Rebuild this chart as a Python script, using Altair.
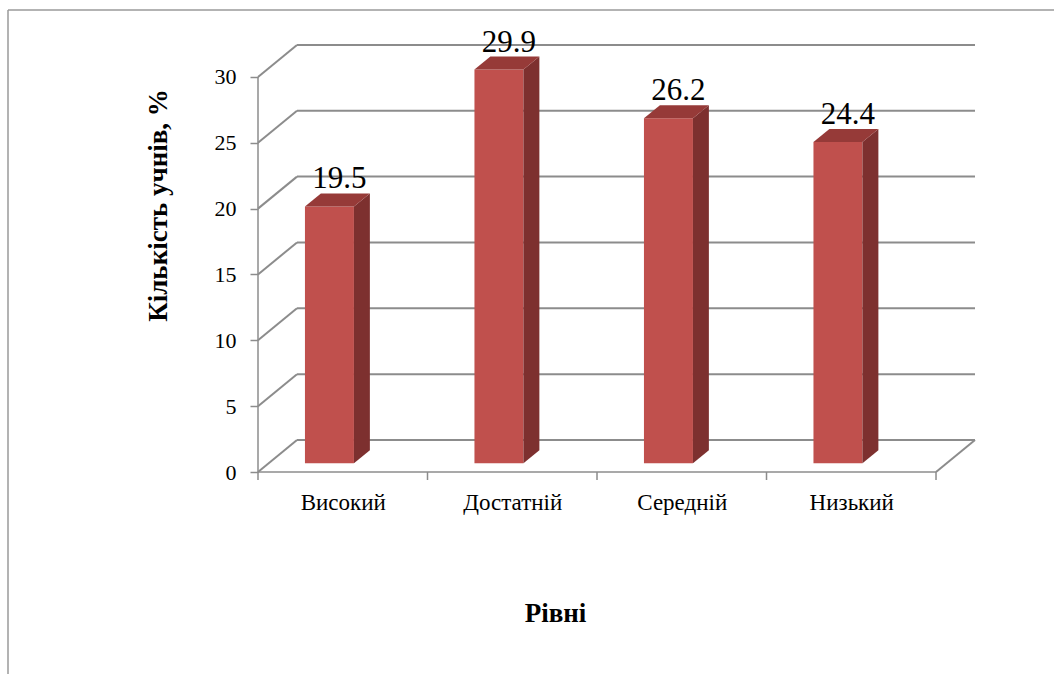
import altair as alt
import pandas as pd

# ---- data ----
categories = ["Високий", "Достатній", "Середній", "Низький"]
values = [19.5, 29.9, 26.2, 24.4]
y_ticks = [0, 5, 10, 15, 20, 25, 30]

# ---- pseudo-3D layout constants (in data units) ----
W, H = 717, 428
XMAX, YMAX = 4.23, 32.5
DX, DY = 0.23, 2.43          # depth of the walls
BASE = 0.66                  # bar base height (bars stand inside the floor)
F1, F2 = 0.277, 0.566        # front face of bar within category slot
SDX, SDY = 0.094, 0.99       # bar depth
FONT = "Liberation Serif"
GRID = "#8c8c8c"

xs = alt.Scale(domain=[0, XMAX], nice=False, zero=False)
ys = alt.Scale(domain=[0, YMAX], nice=False, zero=False)

label_expr = "[" + ",".join("'" + c + "'" for c in categories) + "][floor(datum.value)]"
xaxis = alt.Axis(values=[i + 0.5 for i in range(len(categories))], labelExpr=label_expr,
                 ticks=False, domain=False, grid=False, labelFont=FONT, labelFontSize=23,
                 labelColor="black", labelPadding=19, title="Рівні", titleFont=FONT,
                 titleFontSize=27, titleFontWeight="bold", titleColor="black",
                 titleX=297, titleY=141, titleBaseline="middle", titleAlign="center")
yaxis = alt.Axis(values=y_ticks, ticks=True, tickSize=8, tickColor=GRID, tickWidth=1.5,
                 domain=False, grid=False, labelFont=FONT, labelFontSize=22,
                 labelColor="black", labelPadding=14, title="Кількість учнів, %",
                 titleFont=FONT, titleFontSize=27, titleFontWeight="bold", titleColor="black",
                 titleX=-100, titleY=161, titleAlign="center", titleBaseline="middle", titleAngle=-90)

X = alt.X("x:Q", scale=xs, axis=xaxis)
Y = alt.Y("y:Q", scale=ys, axis=yaxis)

# ---- walls / grid ----
rows = []
for v in y_ticks:
    rows.append({"x": DX, "x2": XMAX, "y": v + DY, "y2": v + DY})   # back wall line
    rows.append({"x": 0, "x2": DX, "y": v, "y2": v + DY})           # side wall diagonal
rows.append({"x": len(categories), "x2": len(categories) + DX, "y": 0, "y2": DY})  # floor right edge
grid_df = pd.DataFrame(rows)
grid = alt.Chart(grid_df).mark_rule(color=GRID, strokeWidth=2).encode(
    x=X, x2="x2:Q", y=Y, y2="y2:Q")

front_df = pd.DataFrame([
    {"x": 0, "x2": len(categories), "y": 0, "y2": 0},
    {"x": 0, "x2": 0, "y": 0, "y2": max(y_ticks)},
])
front = alt.Chart(front_df).mark_rule(color=GRID, strokeWidth=1.5).encode(
    x=X, x2="x2:Q", y=Y, y2="y2:Q")

tick_df = pd.DataFrame({"x": list(range(len(categories) + 1))})
xticks = alt.Chart(tick_df).mark_rule(color=GRID, strokeWidth=1.5).encode(
    x=X, y=alt.value(H), y2=alt.value(H + 8))

# ---- bars ----
face_df = pd.DataFrame([{"x": i + F1, "x2": i + F2, "y": BASE, "y2": BASE + v, "cat": c}
                        for i, (c, v) in enumerate(zip(categories, values))])
face = alt.Chart(face_df).mark_rect(color="#C0504D").encode(x=X, x2="x2:Q", y=Y, y2="y2:Q")

side_rows, top_rows = [], []
for i, (c, v) in enumerate(zip(categories, values)):
    side_rows.append({"x": i + F2, "y": BASE + v, "y2": BASE, "cat": c})
    side_rows.append({"x": i + F2 + SDX, "y": BASE + v + SDY, "y2": BASE + SDY, "cat": c})
    top_rows.append({"y": BASE + v, "x": i + F1, "x2": i + F2, "cat": c})
    top_rows.append({"y": BASE + v + SDY, "x": i + F1 + SDX, "x2": i + F2 + SDX, "cat": c})
side = alt.Chart(pd.DataFrame(side_rows)).mark_area(color="#7D302F", orient="vertical").encode(
    x=X, y=Y, y2="y2:Q", detail="cat:N")
top = alt.Chart(pd.DataFrame(top_rows)).mark_area(color="#963A38", orient="horizontal").encode(
    y=Y, x=X, x2="x2:Q", detail="cat:N")

lab_df = pd.DataFrame([{"x": i + 0.48, "y": BASE + v + SDY, "t": f"{v:.1f}"}
                       for i, v in enumerate(values)])
labels = alt.Chart(lab_df).mark_text(font=FONT, fontSize=31, color="black",
                                     baseline="alphabetic", align="center", dy=-5).encode(
    x=X, y=Y, text="t:N")

# ---- outer frame (decoration) ----
frame = alt.Chart(pd.DataFrame({"a": [0]})).mark_rule(color="#9a9a9a", strokeWidth=1.5).encode(
    x=alt.value(-250), x2=alt.value(1054 - 258), y=alt.value(-34))
frame2 = alt.Chart(pd.DataFrame({"a": [0]})).mark_rule(color="#9a9a9a", strokeWidth=1.5).encode(
    x=alt.value(-250), y=alt.value(-34), y2=alt.value(674 - 44))

chart = alt.layer(grid, front, xticks, face, side, top, labels, frame, frame2).properties(
    width=W, height=H,
    autosize=alt.AutoSizeParams(type="none"),
    padding={"left": 258, "top": 44, "right": 1054 - 258 - W, "bottom": 674 - 44 - H},
    background="white",
).configure_view(stroke=None)

chart.save("out.html", embed_options={"renderer": "svg", "actions": False})
